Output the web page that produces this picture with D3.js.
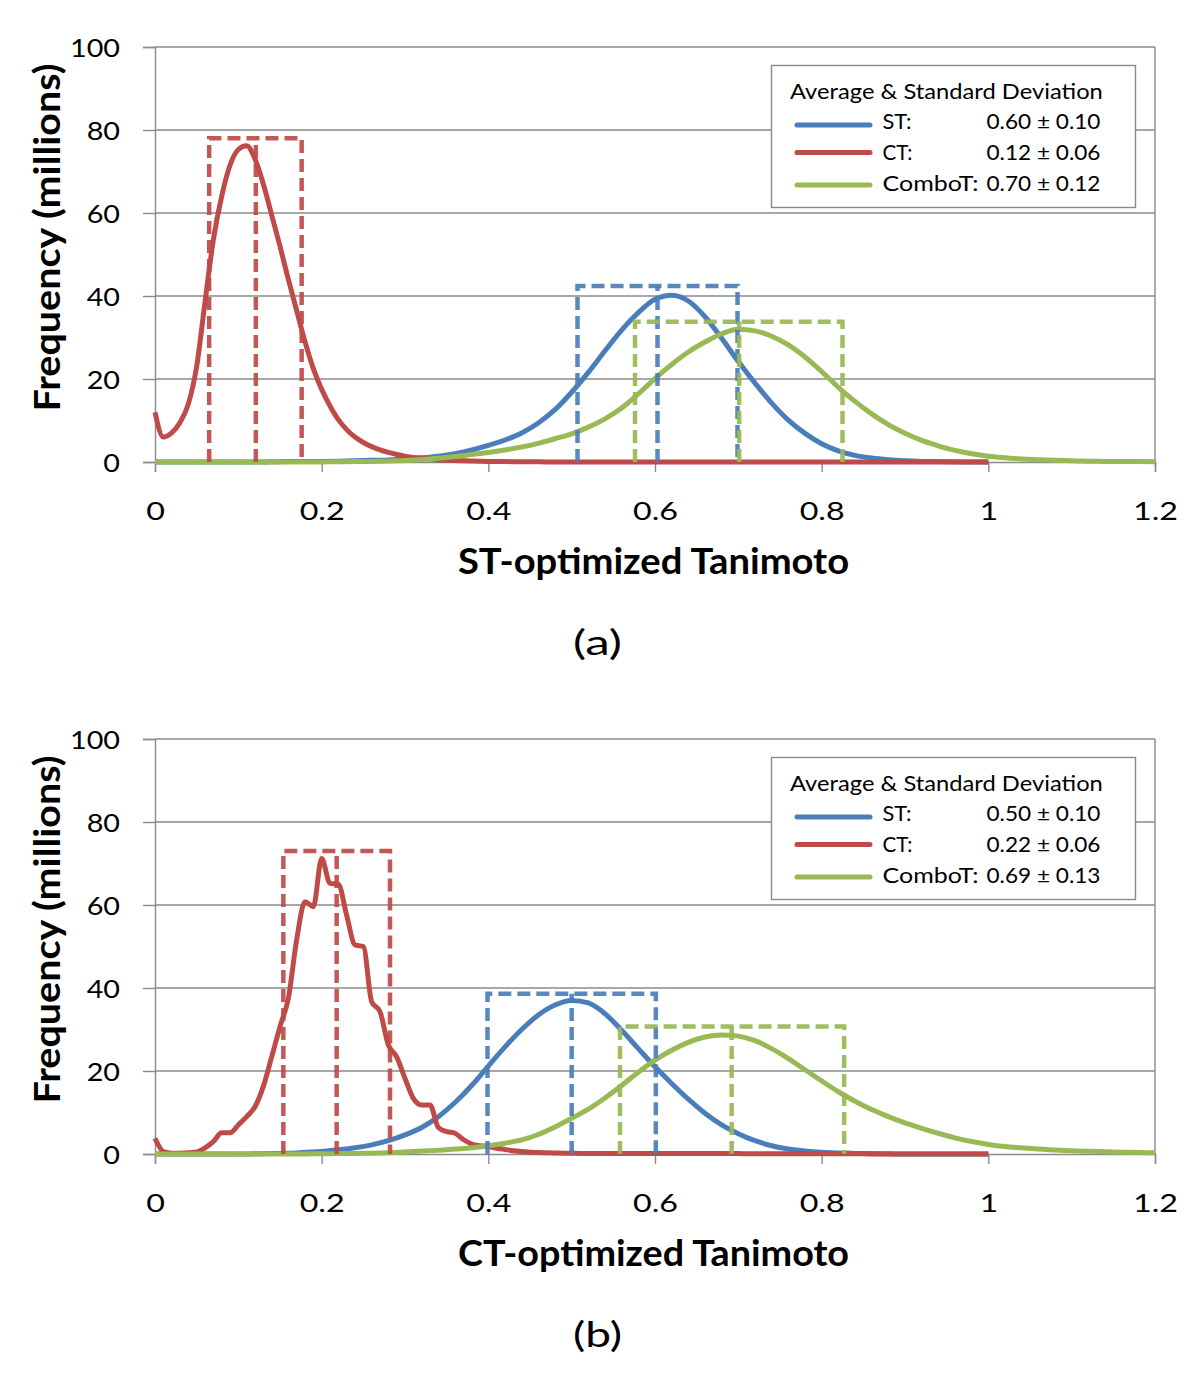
<!DOCTYPE html>
<html><head><meta charset="utf-8">
<script src="https://cdn.jsdelivr.net/npm/d3@7"></script>
<style>
body{margin:0;background:#fff;}
svg{display:block;}
text{font-family:Lato,"Open Sans",sans-serif;fill:#000;}
</style>
</head><body>
<svg id="chart" width="1200" height="1385"></svg>
<script>
// ---------- data ----------
const xTickValues = [0, 0.2, 0.4, 0.6, 0.8, 1.0, 1.2];
const xTickLabels = ["0", "0.2", "0.4", "0.6", "0.8", "1", "1.2"];
const yTickValues = [0, 20, 40, 60, 80, 100];
const seriesNames = ["ST", "CT", "ComboT"];
const seriesColors = ["#4A7EBB", "#BE4B48", "#98B954"];

// category positions
const xCT = d3.range(101).map(i => +(i * 0.01).toFixed(2));      // 0 .. 1.0
const xST = d3.range(51).map(i => +(i * 0.02).toFixed(2));       // 0 .. 1.0
const xCombo = d3.range(61).map(i => +(i * 0.02).toFixed(2));    // 0 .. 1.2

// panel (a) ST-optimized
const ctA = [12,6,7,9.5,14,23,38.5,53.5,64,71.5,
  75.3,76.2,73,67,59.5,52,44,36.5,29,22.5,
  17.5,13.5,10.2,7.8,6,4.7,3.7,2.9,2.3,1.8,
  1.4,1.1,0.9,0.7,0.55,0.45,0.35,0.3,0.25,0.2,
  0.15,0.12,0.1,0.08,0.06,0.05,0.04,0.03,0.03,0.02,
  0.02,
  0,0,0,0,0,0,0,0,0,0, 0,0,0,0,0,0,0,0,0,0,
  0,0,0,0,0,0,0,0,0,0, 0,0,0,0,0,0,0,0,0,0,
  0,0,0,0,0,0,0,0,0,0];
const stA = [0,0,0,0,0,0,0,
  0.05,0.1,0.1,0.15,0.2,0.3,0.4,0.5,0.7,1.0,
  1.4,2.0,2.9,4.0,5.3,7.0,9.4,12.6,16.8,21.6,
  26.8,31.8,36.0,39.2,40.2,38.8,35.0,29.8,24.2,19.0,
  14.2,10.1,6.9,4.4,2.7,1.6,0.95,0.55,0.3,0.15,
  0.1,0.05,0,0];
const comboA = [0,0,0,0,0,0,0,0,0,0.02,0.03,
  0.05,0.1,0.15,0.25,0.35,0.6,0.9,1.3,1.8,2.3,
  2.9,3.6,4.5,5.6,6.8,8.4,10.4,13.0,16.4,20.1,
  23.5,26.5,28.9,30.9,32.0,31.6,30.3,28.2,25.3,21.8,
  18.0,14.6,11.6,9.0,6.9,5.2,3.9,2.8,2.0,1.4,
  1.0,0.75,0.55,0.4,0.3,0.2,0.15,0.1,0.1,0.05];
// dashed boxes (mean ± sd), order ST, CT, ComboT
const boxLowA = [0.507, 0.065, 0.576];
const boxMeanA = [0.603, 0.121, 0.701];
const boxHighA = [0.699, 0.176, 0.825];
const boxTopA = [42.4, 78.0, 33.8];
const legendValuesA = ["0.60 ± 0.10", "0.12 ± 0.06", "0.70 ± 0.12"];

// panel (b) CT-optimized
const ctB = [3.8,0.6,0.2,0.2,0.3,0.5,1.5,3.0,5.1,5.1,
  7.0,9.0,11.4,16.3,23.4,30.7,37.5,51.6,60.8,59.6,
  71.2,65.2,65.0,57.5,50.4,50.0,36.7,34.3,26.3,23.4,
  18.2,13.4,11.8,11.8,6.4,5.4,5.0,3.5,2.4,2.0,
  1.8,1.4,1.1,0.8,0.6,0.45,0.35,0.3,0.25,0.2,
  0.2,
  0.15,0.15,0.15,0.15,0.15,0.15,0.15,0.15,0.15,0.15,
  0.1,0.1,0.1,0.1,0.1,0.1,0.1,0.1,0.1,0.1,
  0.05,0.05,0.05,0.05,0.05,0.05,0.05,0.05,0.05,0.05,0.05,0.05,0.05,0.05,0.05,
  0,0,0,0,0,0,0,0,0,0,0,0,0,0,0];
const stB = [0,0,0,0,0,0,
  0.05,0.1,0.2,0.4,0.6,1.0,1.5,2.2,3.2,4.6,
  6.4,9.0,12.4,16.5,21.2,25.8,30.0,33.5,35.9,37.0,
  36.4,33.8,29.8,25.4,21.0,17.0,13.2,9.8,7.0,4.9,
  3.2,2.0,1.2,0.7,0.4,0.25,0.15,0.1,0.05,0,
  0,0,0,0,0];
const comboB = [0,0,0,0,0,0,0,0,0,0.02,
  0.05,0.1,0.15,0.2,0.3,0.5,0.7,0.9,1.2,1.5,
  2.0,2.6,3.4,4.7,6.5,8.6,10.8,13.5,16.5,19.7,
  22.6,25.0,26.9,28.2,28.7,28.4,27.3,25.4,23.0,20.3,
  17.6,15.0,12.7,10.7,9.0,7.5,6.2,5.0,3.9,3.0,
  2.3,1.8,1.5,1.2,0.95,0.8,0.65,0.55,0.45,0.35,0.3];
const boxLowB = [0.399, 0.154, 0.558];
const boxMeanB = [0.500, 0.218, 0.692];
const boxHighB = [0.601, 0.282, 0.827];
const boxTopB = [38.6, 73.0, 30.7];
const legendValuesB = ["0.50 ± 0.10", "0.22 ± 0.06", "0.69 ± 0.13"];

// ---------- drawing ----------
const CAP = 0.7165;
const gridColor = "#8a8a8a";
const svg = d3.select("#chart");

function label(parent, str, px, py, o) {
  const g = parent.append("g")
    .attr("transform", `translate(${px},${py})` + (o.rotate ? ` rotate(${o.rotate})` : ""));
  const t = g.append("text")
    .attr("text-anchor", o.anchor || "start")
    .attr("font-size", o.capH / CAP)
    .attr("font-weight", o.weight || 400)
    .text(str);
  if (o.width) {
    const w = t.node().getComputedTextLength();
    t.attr("transform", `scale(${o.width / w},1)`);
  }
  return t;
}

function drawPanel(cfg) {
  const off = cfg.off;
  const x = d3.scaleLinear().domain([0, 1.2]).range([155, 1155]);
  const y = d3.scaleLinear().domain([0, 100]).range([462 + off, 47 + off]);
  const g = svg.append("g");

  // gridlines
  g.selectAll("line.grid").data(yTickValues.filter(v => v > 0)).join("line")
    .attr("class", "grid")
    .attr("x1", x(0)).attr("x2", x(1.2))
    .attr("y1", d => y(d)).attr("y2", d => y(d))
    .attr("stroke", gridColor).attr("stroke-width", 1.4);
  // right border
  g.append("line").attr("x1", x(1.2)).attr("x2", x(1.2)).attr("y1", y(0)).attr("y2", y(100))
    .attr("stroke", gridColor).attr("stroke-width", 1.4);

  // axes
  const ya = g.append("g").attr("transform", `translate(${x(0)},0)`)
    .call(d3.axisLeft(y).tickValues(yTickValues).tickSize(12).tickFormat(d3.format("d")));
  const xa = g.append("g").attr("transform", `translate(0,${y(0)})`)
    .call(d3.axisBottom(x).tickValues(xTickValues).tickSize(10).tickPadding(31)
      .tickFormat((d, i) => xTickLabels[i]));
  [ya, xa].forEach(a => {
    a.select(".domain").attr("stroke", gridColor).attr("stroke-width", 1.4);
    a.selectAll(".tick line").attr("stroke", gridColor).attr("stroke-width", 1.4);
    a.selectAll("text").attr("fill", "#000").attr("font-family", "Lato,'Open Sans',sans-serif");
  });
  ya.selectAll("text").attr("font-size", 18.5 / CAP);
  const w100 = ya.selectAll("text").filter(d => d === 100).node().getComputedTextLength();
  const syY = 50 / w100;
  ya.selectAll("text").attr("transform", `scale(${syY},1)`).attr("x", -35 / syY).attr("dy", "0.36em");
  xa.selectAll("text").attr("font-size", 17.5 / CAP);
  const w04 = xa.selectAll("text").filter(d => d === 0.4).node().getComputedTextLength();
  xa.selectAll("text").attr("transform", `scale(${45 / w04},1)`);

  // series lines
  const line = d3.line().x(d => x(d[0])).y(d => y(d[1])).curve(d3.curveMonotoneX);
  const series = [
    {xs: xST, ys: cfg.st, c: seriesColors[0]},
    {xs: xCT, ys: cfg.ct, c: seriesColors[1]},
    {xs: xCombo, ys: cfg.combo, c: seriesColors[2]}
  ];
  g.selectAll("path.series").data(series).join("path")
    .attr("class", "series")
    .attr("d", s => line(s.xs.map((v, i) => [v, s.ys[i]])))
    .attr("fill", "none").attr("stroke", s => s.c)
    .attr("stroke-width", 5).attr("stroke-linejoin", "round").attr("stroke-linecap", "butt");

  // dashed mean ± sd boxes (ST, CT, ComboT)
  const boxes = seriesNames.map((n, i) => ({
    lo: cfg.lo[i], mean: cfg.mean[i], hi: cfg.hi[i], top: cfg.top[i], c: seriesColors[i]
  }));
  const order = [1, 0, 2];
  order.forEach(i => {
    const b = boxes[i];
    g.append("path")
      .attr("d", `M${x(b.lo)},${y(0)}V${y(b.top)}H${x(b.hi)}V${y(0)}`)
      .attr("fill", "none").attr("stroke", b.c).attr("stroke-width", 4.5)
      .attr("stroke-dasharray", "13,6").attr("opacity", 0.92);
    g.append("path")
      .attr("d", `M${x(b.mean)},${y(0)}V${y(b.top)}`)
      .attr("fill", "none").attr("stroke", b.c).attr("stroke-width", 4.5)
      .attr("stroke-dasharray", "13,6").attr("opacity", 0.92);
  });

  // legend
  const lg = g.append("g").attr("transform", `translate(0,${off})`);
  lg.append("rect").attr("x", 771.5).attr("y", 65.5).attr("width", 364).attr("height", 142)
    .attr("fill", "#fff").attr("stroke", gridColor).attr("stroke-width", 1.4);
  label(lg, "Average & Standard Deviation", 790, 98.5, {capH: 15.5, width: 313});
  const lineY = [125, 152.5, 185];
  const textY = [128.5, 159.5, 190.5];
  const labelW = [29, 30, 96];
  seriesNames.forEach((n, i) => {
    lg.append("line").attr("x1", 797).attr("x2", 870).attr("y1", lineY[i]).attr("y2", lineY[i])
      .attr("stroke", seriesColors[i]).attr("stroke-width", 5).attr("stroke-linecap", "round");
    label(lg, n + ":", 882.5, textY[i], {capH: 15.5, width: labelW[i]});
    label(lg, cfg.legend[i], 986.5, textY[i], {capH: 15.5, width: 114});
  });

  // titles
  label(g, cfg.xTitle, 653.5, 574 + off, {capH: 26, width: 391, weight: 700, anchor: "middle"});
  label(g, cfg.tag, 597.5, 655 + off, {capH: 25, width: 49, anchor: "middle"});
  label(g, "Frequency (millions)", 60, 237.5 + off, {capH: 26, width: 348, weight: 700, anchor: "middle", rotate: -90});
}

drawPanel({off: 0, st: stA, ct: ctA, combo: comboA,
  lo: boxLowA, mean: boxMeanA, hi: boxHighA, top: boxTopA,
  legend: legendValuesA, xTitle: "ST-optimized Tanimoto", tag: "(a)"});
drawPanel({off: 692, st: stB, ct: ctB, combo: comboB,
  lo: boxLowB, mean: boxMeanB, hi: boxHighB, top: boxTopB,
  legend: legendValuesB, xTitle: "CT-optimized Tanimoto", tag: "(b)"});
</script>
</body></html>
